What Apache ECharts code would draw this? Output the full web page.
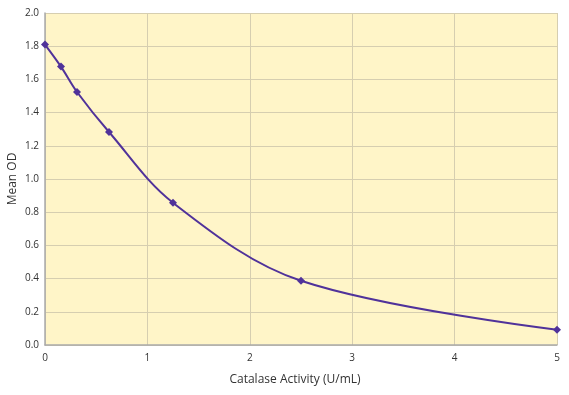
<!DOCTYPE html>
<html><head><meta charset="utf-8">
<script src="https://cdn.jsdelivr.net/npm/echarts@6/dist/echarts.min.js"></script>
<style>html,body{margin:0;padding:0;background:#fff}#c{width:569px;height:395px}</style>
</head><body><div id="c"></div>
<script>
var xValues = [0, 0.156, 0.3125, 0.625, 1.25, 2.5, 5];
var yValues = [1.81, 1.677, 1.524, 1.283, 0.857, 0.387, 0.092];
var xTicks = [0, 1, 2, 3, 4, 5];
var yTicks = ["0.0","0.2","0.4","0.6","0.8","1.0","1.2","1.4","1.6","1.8","2.0"];
var xTitle = "Catalase Activity (U/mL)";
var yTitle = "Mean OD";

var chart = echarts.init(document.getElementById('c'), null, {renderer:'canvas'});
var font = "'Open Sans', 'Noto Sans', sans-serif";
chart.setOption({
  animation:false,
  grid:{left:45, right:12, top:13, bottom:50, show:true, backgroundColor:'#fff5c8', borderWidth:0,
    containLabel:false, outerBoundsMode:'none'},
  xAxis:{type:'value', min:0, max:5, interval:1,
    name:xTitle, nameLocation:'middle', nameGap:29, nameMoveOverlap:false,
    nameTextStyle:{color:'#333', fontSize:12, fontFamily:font, padding:[0,12,0,0]},
    axisLine:{show:true, lineStyle:{color:'#aaa', width:1.5}},
    axisTick:{show:false},
    axisLabel:{color:'#333', fontSize:10, fontFamily:font, margin:8,
      formatter:function(v){return String(xTicks[Math.round(v)]);}},
    splitLine:{show:true, lineStyle:{color:'#d6ceb0', width:1}}
  },
  yAxis:{type:'value', min:0, max:2, interval:0.2,
    name:yTitle, nameLocation:'middle', nameGap:26, nameMoveOverlap:false,
    nameTextStyle:{color:'#333', fontSize:12, fontFamily:font},
    axisLine:{show:true, lineStyle:{color:'#aaa', width:1.5}},
    axisTick:{show:false},
    axisLabel:{color:'#333', fontSize:10, fontFamily:font, margin:6,
      formatter:function(v){return yTicks[Math.round(v/0.2)];}},
    splitLine:{show:true, lineStyle:{color:'#d6ceb0', width:1}}
  },
  series:[{
    type:'line', smooth:0.35,
    data:xValues.map(function(x,i){return [x,yValues[i]];}),
    symbol:'diamond', symbolSize:8,
    lineStyle:{color:'#50329a', width:2},
    itemStyle:{color:'#50329a'}
  }]
});
</script></body></html>
